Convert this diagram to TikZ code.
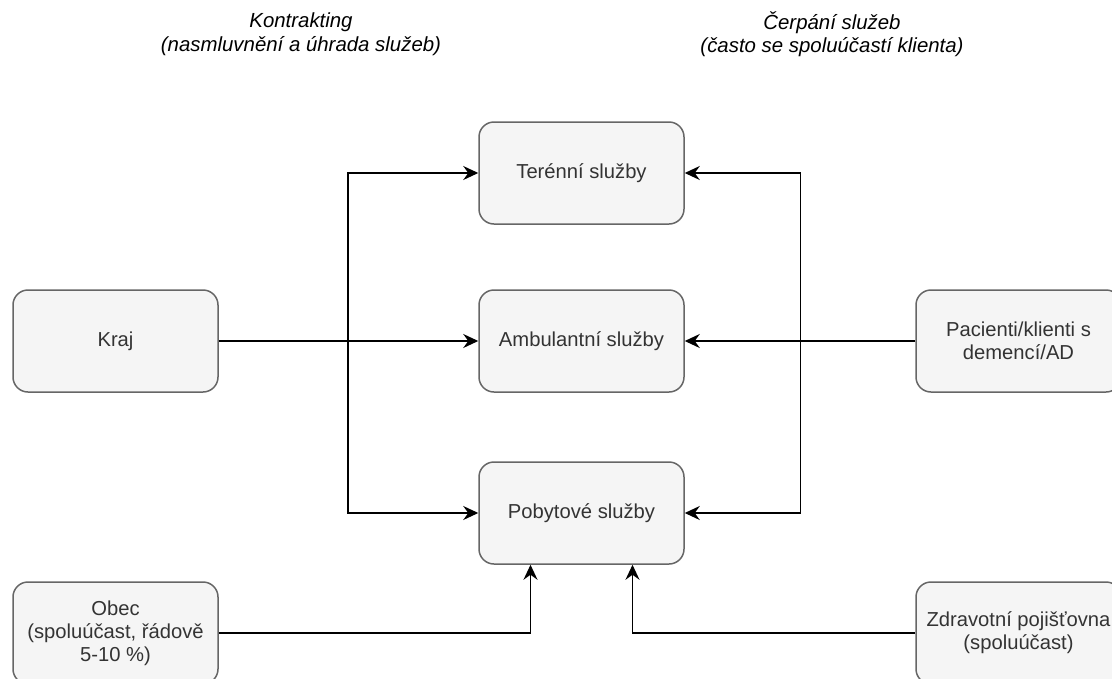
\documentclass[tikz,border=0pt]{standalone}
\usepackage{fontspec}
\setmainfont{Liberation Sans}
\usetikzlibrary{arrows.meta}
\definecolor{boxfill}{HTML}{F5F5F5}
\definecolor{boxline}{HTML}{666666}
\definecolor{boxtext}{HTML}{333333}
\begin{document}
\begin{tikzpicture}[x=1pt,y=-1pt,
  svc/.style={draw=boxline, fill=boxfill, line width=1.5pt, rounded corners=15pt,
    minimum width=205pt, minimum height=102pt, inner sep=0pt,
    text=boxtext, align=center, font=\fontsize{20.2}{23}\selectfont},
  link/.style={line width=1.7pt, -{Stealth[length=15pt,width=14pt,inset=5pt]}},
  heading/.style={align=center, inner sep=0pt, font=\fontsize{20.4}{23.5}\selectfont\itshape}]
\clip (0,0) rectangle (1112,678);
\fill[white] (0,0) rectangle (1112,678);

% headings
\node[heading] (contract) at (301,34) {Kontrakting\\(nasmluvnění a úhrada služeb)};
\node[heading] (usage) at (832,34) {Čerpání služeb\\(často se spoluúčastí klienta)};

% services
\node[svc] (teren) at (581.5,173) {Terénní služby};
\node[svc] (ambu)  at (581.5,341) {Ambulantní služby};
\node[svc] (pobyt) at (581.5,513) {Pobytové služby};

% payers and clients
\node[svc] (kraj) at (115.5,341) {Kraj};
\node[svc] (pac)  at (1018.5,341) {Pacienti/klienti s\\demencí/AD};
\node[svc] (obec) at (115.5,633) {Obec\\(spoluúčast, řádově\\5-10 \%)};
\node[svc] (zp)   at (1018.5,633) {Zdravotní pojišťovna\\(spoluúčast)};

% branching points
\coordinate (lsplit) at (348,341);
\coordinate (rsplit) at (800.5,341);
\coordinate (pobytL) at ([xshift=-51pt]pobyt.south);
\coordinate (pobytR) at ([xshift=51pt]pobyt.south);

% contracting
\draw[link] (kraj.east) -- (ambu.west);
\draw[link] (lsplit) |- (teren.west);
\draw[link] (lsplit) |- (pobyt.west);

% usage
\draw[link] (pac.west) -- (ambu.east);
\draw[link] (rsplit) |- (teren.east);
\draw[link] (rsplit) |- (pobyt.east);

% co-payments
\draw[link] (obec.east) -| (pobytL);
\draw[link] (zp.west) -| (pobytR);
\end{tikzpicture}
\end{document}
